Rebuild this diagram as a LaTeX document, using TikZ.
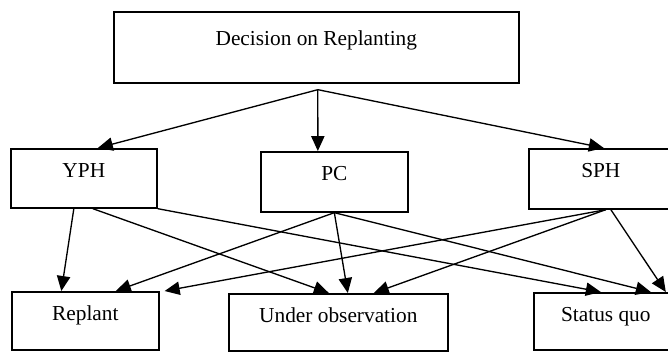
\documentclass[tikz,border=0pt]{standalone}
\usepackage{fontspec}
\setmainfont{Liberation Serif}
\usetikzlibrary{arrows.meta,calc}

\tikzset{
  box/.style={draw, line width=1pt, inner sep=0pt, anchor=north west, text height=17pt, font=\fontsize{12.8}{15}\selectfont},
  link/.style={line width=0.8pt, -{Triangle[length=9pt,width=8pt]}},
}

\begin{document}
\begin{tikzpicture}[x=0.6pt, y=-0.6pt]

  \useasboundingbox (0,0) rectangle (668,351);

  \node[box, minimum width=243pt, text height=20pt, text depth=22.6pt] (dec) at (113,11) {Decision on Replanting};

  \node[box, minimum width=87.6pt, text depth=18.4pt] (yph) at (10,148) {YPH};
  \node[box, minimum width=88.2pt, text depth=19pt] (pc) at (260,151) {PC};
  \node[box, minimum width=86.4pt, text depth=19pt] (sph) at (528,148) {SPH};

  \node[box, minimum width=88.2pt, text depth=17.8pt] (rep) at (11,291) {Replant};
  \node[box, minimum width=131.4pt, text depth=17.4pt] (obs) at (228,293) {Under observation};
  \node[box, minimum width=86.4pt, text depth=17.4pt] (sq) at (533,292) {Status quo};

  \coordinate (fork) at ($(dec.south)+(1.5,6)$);

  \draw[link] (fork) -- ($(yph.north)+(14,0)$);
  \draw[link] (fork) -- ($(pc.north)+(-16.5,0)$);
  \draw[link] (fork) -- ($(sph.north)+(3,0)$);

  \draw[link] ($(yph.south)+(-10,0)$) -- ($(rep.north)+(-24,0)$);
  \draw[link] ($(yph.south)+(9,0)$) -- ($(obs.north)+(-9.5,0)$);
  \draw[link] (yph.south east) -- ($(sq.north)+(-5,0)$);

  \draw[link] (pc.south) -- ($(rep.north)+(30.5,0)$);
  \draw[link] (pc.south) -- ($(obs.north)+(9.5,0)$);
  \draw[link] (pc.south) -- ($(sq.north)+(45,0)$);

  \draw[link] ($(sph.south)+(5,0)$) -- ($(rep.north east)+(5,0)$);
  \draw[link] ($(sph.south)+(5,0)$) -- ($(obs.north)+(35.5,0)$);
  \draw[link] ($(sph.south)+(10,0)$) -- ($(sq.north)+(60,0)$);

\end{tikzpicture}
\end{document}
